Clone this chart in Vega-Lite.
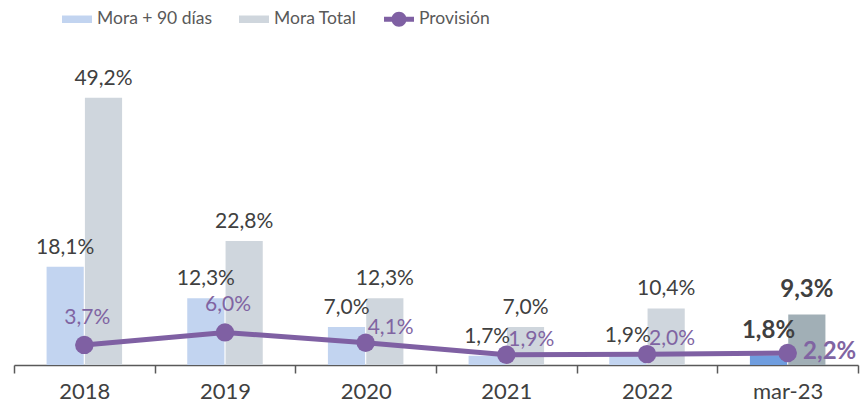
{
  "$schema": "https://vega.github.io/schema/vega-lite/v6.json",
  "width": 844,
  "height": 326,
  "autosize": {"type": "none"},
  "padding": {"left": 14, "top": 39, "right": 5, "bottom": 42},
  "background": "white",
  "config": {
    "view": {"stroke": null},
    "font": "Lato",
    "axis": {"grid": false},
    "legend": {"padding": 0}
  },
  "data": {
    "values": [
      {"cat": "2018", "serie": "Mora + 90 días", "value": 18.1},
      {"cat": "2019", "serie": "Mora + 90 días", "value": 12.3},
      {"cat": "2020", "serie": "Mora + 90 días", "value": 7.0},
      {"cat": "2021", "serie": "Mora + 90 días", "value": 1.7},
      {"cat": "2022", "serie": "Mora + 90 días", "value": 1.9},
      {"cat": "mar-23", "serie": "Mora + 90 días", "value": 1.8},
      {"cat": "2018", "serie": "Mora Total", "value": 49.2},
      {"cat": "2019", "serie": "Mora Total", "value": 22.8},
      {"cat": "2020", "serie": "Mora Total", "value": 12.3},
      {"cat": "2021", "serie": "Mora Total", "value": 7.0},
      {"cat": "2022", "serie": "Mora Total", "value": 10.4},
      {"cat": "mar-23", "serie": "Mora Total", "value": 9.3},
      {"cat": "2018", "serie": "Provisión", "value": 3.7},
      {"cat": "2019", "serie": "Provisión", "value": 6.0},
      {"cat": "2020", "serie": "Provisión", "value": 4.1},
      {"cat": "2021", "serie": "Provisión", "value": 1.9},
      {"cat": "2022", "serie": "Provisión", "value": 2.0},
      {"cat": "mar-23", "serie": "Provisión", "value": 2.2}
    ]
  },
  "transform": [
    {"calculate": "replace(format(datum.value, '.1f'), '.', ',') + '%'", "as": "label"}
  ],
  "encoding": {
    "x": {
      "field": "cat",
      "type": "nominal",
      "sort": null,
      "scale": {"paddingInner": 0, "paddingOuter": 0},
      "axis": {
        "title": null,
        "labelAngle": 0,
        "labelFontSize": 22,
        "labelColor": "#404040",
        "domainColor": "#595959",
        "domainWidth": 1.5,
        "tickColor": "#595959",
        "tickWidth": 1.5,
        "tickSize": 8,
        "tickBand": "extent",
        "labelPadding": 8
      }
    },
    "y": {
      "field": "value",
      "type": "quantitative",
      "scale": {"domain": [0, 60]},
      "axis": null
    }
  },
  "layer": [
    {
      "transform": [{"filter": "datum.serie !== 'Provisión'"}],
      "mark": {"type": "bar"},
      "encoding": {
        "xOffset": {"field": "serie", "type": "nominal", "scale": {"paddingOuter": 0.85, "paddingInner": 0.03}},
        "color": {
          "field": "serie",
          "type": "nominal",
          "scale": {"domain": ["Mora + 90 días", "Mora Total", "Provisión"], "range": ["#c2d4f0", "#cfd6dd", "#7f60a3"]},
          "condition": [
            {"test": "datum.cat === 'mar-23' && datum.serie === 'Mora + 90 días'", "value": "#6f9ddf"},
            {"test": "datum.cat === 'mar-23' && datum.serie === 'Mora Total'", "value": "#a1afb6"}
          ]
        }
      }
    },
    {
      "transform": [{"filter": "datum.serie === 'Provisión'"}],
      "mark": {"type": "line", "color": "#7f60a3", "strokeWidth": 5}
    },
    {
      "transform": [{"filter": "datum.serie === 'Provisión'"}],
      "mark": {"type": "point", "filled": true, "opacity": 1, "size": 300},
      "encoding": {
        "color": {
          "field": "serie",
          "type": "nominal",
          "legend": {
            "title": null,
            "orient": "none",
            "legendX": 48,
            "legendY": -35,
            "direction": "horizontal",
            "labelFontSize": 17.5,
            "labelColor": "#595959",
            "labelOffset": 5,
            "symbolSize": 900,
            "symbolOpacity": 1,
            "symbolStrokeWidth": 0,
            "columnPadding": 27
          }
        },
        "shape": {
          "field": "serie",
          "type": "nominal",
          "scale": {
            "domain": ["Mora + 90 días", "Mora Total", "Provisión"],
            "range": [
              "M-1,-0.25L1,-0.25L1,0.25L-1,0.25Z",
              "M-1,-0.25L1,-0.25L1,0.25L-1,0.25Z",
              "M-1,-0.17L1,-0.17L1,0.17L-1,0.17Z M-0.5,0A0.5,0.5,0,1,1,0.5,0A0.5,0.5,0,1,1,-0.5,0Z"
            ]
          }
        }
      }
    },
    {
      "transform": [{"filter": "datum.serie === 'Provisión'"}],
      "mark": {"type": "point", "shape": "circle", "filled": true, "opacity": 1, "color": "#7f60a3", "size": 340}
    },
    {
      "transform": [{"filter": "datum.serie !== 'Provisión' && datum.cat !== 'mar-23'"}],
      "mark": {"type": "text", "fontSize": 21, "color": "#404040", "dy": -19, "baseline": "middle"},
      "encoding": {
        "xOffset": {"field": "serie", "type": "nominal", "scale": {"paddingOuter": 0.85, "paddingInner": 0.03}},
        "text": {"field": "label"}
      }
    },
    {
      "transform": [{"filter": "datum.serie !== 'Provisión' && datum.cat === 'mar-23'"}],
      "mark": {"type": "text", "fontSize": 24, "fontWeight": "bold", "color": "#404040", "dy": -24, "baseline": "middle"},
      "encoding": {
        "xOffset": {"field": "serie", "type": "nominal", "scale": {"paddingOuter": 0.85, "paddingInner": 0.03}},
        "text": {"field": "label"}
      }
    },
    {
      "transform": [{"filter": "datum.serie === 'Provisión' && (datum.cat === '2018' || datum.cat === '2019')"}],
      "mark": {"type": "text", "fontSize": 21, "color": "#8064a2", "dx": 3, "dy": -27, "baseline": "middle"},
      "encoding": {"text": {"field": "label"}}
    },
    {
      "transform": [{"filter": "datum.serie === 'Provisión' && (datum.cat === '2020' || datum.cat === '2021' || datum.cat === '2022')"}],
      "mark": {"type": "text", "fontSize": 21, "color": "#8064a2", "dx": 25, "dy": -15, "baseline": "middle"},
      "encoding": {"text": {"field": "label"}}
    },
    {
      "transform": [{"filter": "datum.serie === 'Provisión' && datum.cat === 'mar-23'"}],
      "mark": {"type": "text", "fontSize": 24, "fontWeight": "bold", "color": "#8064a2", "dx": 42, "dy": -1, "baseline": "middle"},
      "encoding": {"text": {"field": "label"}}
    }
  ]
}
